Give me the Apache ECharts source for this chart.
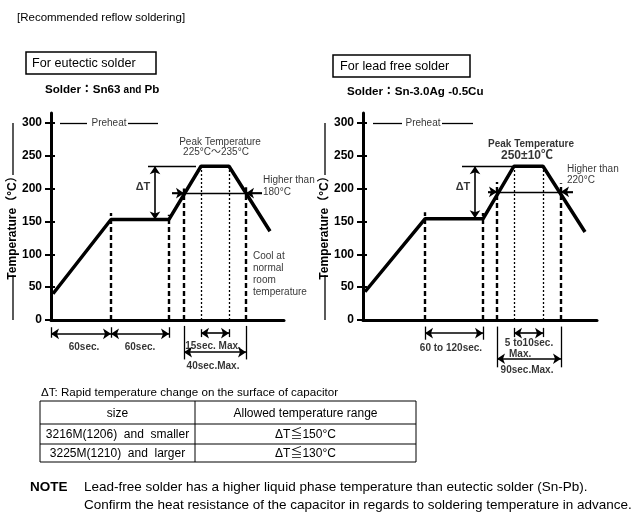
<!DOCTYPE html>
<html><head><meta charset="utf-8">
<script src="https://cdn.jsdelivr.net/npm/echarts@6/dist/echarts.min.js"></script>
<style>html,body{margin:0;padding:0;background:#fff}#c{width:640px;height:522px}</style>
</head><body><div id="c"></div>
<script>
// ---------------- DATA ----------------
const yTickValues = [0, 50, 100, 150, 200, 250, 300];
// time (s, approx) vs temperature (°C)
const eutecticProfile = [[2, 40], [60, 153], [118, 153], [150, 234], [178, 234], [219, 135]];
const leadFreeProfile = [[2, 43], [62, 154], [120, 154], [151, 234], [180, 234], [222, 134]];
const tableHeader = ['size', 'Allowed temperature range'];
const tableRow1 = ['3216M(1206)  and  smaller', 'ΔT≦150°C'];
const tableRow2 = ['3225M(1210)  and  larger', 'ΔT≦130°C'];

// ---------------- ANNOTATIONS (data coords) ----------------
const eutDashed = [[60, 163], [118, 160], [133, 200], [195, 202]];
const eutDotted = [[150, 234], [178, 234]];
const eutThin = [
  [[9, 300], [36, 300]], [[77, 300], [107, 300]],
  [[121, 193], [211, 193]], [[97, 234], [145, 234]],
  [[0, -11], [0, -27]], [[60, -11], [60, -27]], [[118, -11], [118, -27]],
  [[150, -14], [150, -26]], [[178, -14], [178, -26]],
  [[133, -9], [133, -60]], [[195, -9], [195, -60]]
];
const eutDouble = [
  [[0, -21], [60, -21]], [[60, -21], [118, -21]], [[150, -20], [178, -20]],
  [[133, -49], [195, -49]], [[104, 234], [104, 153]]
];
const eutSingle = [[[121, 193], [133, 193]], [[211, 193], [195, 193]]];
const eutLabels = [
  ['Preheat', 58, 300, 'n'], ['Peak Temperature', 169, 271, 'n'], ['225°C～235°C', 165, 255, 'n'],
  ['ΔT', 92, 202, 'dt'], ['Higher than', 212, 212, 'nl'], ['180°C', 212, 195, 'nl'],
  ['Cool at\nnormal\nroom\ntemperature', 202, 69, 'ml'],
  ['60sec.', 33, -41, 'b'], ['60sec.', 89, -41, 'b'], ['15sec. Max.', 162, -40, 'b'], ['40sec.Max.', 162, -70, 'b']
];

const leadDashed = [[62, 164], [120, 163], [134, 210], [198, 208]];
const leadDotted = [[151, 234], [180, 234]];
const leadThin = [
  [[10, 300], [39, 300]], [[79, 300], [110, 300]],
  [[125, 195], [210, 195]], [[99, 234], [149, 234]],
  [[62, -10], [62, -30]], [[120, -10], [120, -30]],
  [[151, -12], [151, -26]], [[180, -12], [180, -26]],
  [[134, -10], [134, -72]], [[198, -10], [198, -72]]
];
const leadDouble = [
  [[62, -20], [120, -20]], [[151, -20], [180, -20]], [[134, -59], [198, -59]], [[112, 234], [112, 155]]
];
const leadSingle = [[[125, 195], [134, 195]], [[210, 195], [198, 195]]];
const leadLabels = [
  ['Preheat', 60, 300, 'n'], ['Peak Temperature', 168, 268, 'b'], ['250±10℃', 164, 250, 'big'],
  ['ΔT', 100, 202, 'dt'], ['Higher than', 204, 230, 'nl'], ['220°C', 204, 213, 'nl'],
  ['60 to 120sec.', 88, -43, 'b'], ['5 to10sec.', 166, -35, 'b'], ['Max.', 146, -52, 'bl'], ['90sec.Max.', 164, -76, 'b']
];

// ---------------- STYLE ----------------
const FONT = '"Liberation Sans", Arial, "Noto Sans CJK JP", sans-serif';
const labelStyles = {
  n: {fontSize: 10}, nl: {fontSize: 10, align: 'left'},
  ml: {fontSize: 10, align: 'left', lineHeight: 12},
  b: {fontSize: 10, fontWeight: 'bold'}, bl: {fontSize: 10, fontWeight: 'bold', align: 'left'},
  dt: {fontSize: 11, fontWeight: 'bold'}, big: {fontSize: 12, fontWeight: 'bold'}
};

function axesFor(i, xmax) {
  return {
    x: {gridIndex: i, type: 'value', min: 0, max: xmax,
        axisLine: {show: true, lineStyle: {color: '#000', width: 3}},
        axisTick: {show: false}, axisLabel: {show: false}, splitLine: {show: false}},
    y: [{gridIndex: i, type: 'value', min: 0, max: 315,
         axisLine: {show: true, lineStyle: {color: '#000', width: 3}},
         axisTick: {show: true, length: 6, lineStyle: {color: '#000', width: 2}, customValues: yTickValues},
         axisLabel: {customValues: yTickValues, fontSize: 12, fontWeight: 'bold', color: '#000', margin: 9, fontFamily: FONT},
         splitLine: {show: false}},
        {gridIndex: i, type: 'value', min: 0, max: 315, position: 'left',
         axisLine: {show: false},
         axisTick: {show: true, inside: true, length: 4, lineStyle: {color: '#000', width: 2}, customValues: yTickValues},
         axisLabel: {show: false}, splitLine: {show: false}}]
  };
}

function seriesFor(i, profile, dashed, dotted, thin, dbl, single, labels) {
  const ax = {xAxisIndex: i, yAxisIndex: i * 2};
  const linesBase = Object.assign({type: 'lines', coordinateSystem: 'cartesian2d', clip: false, silent: true}, ax);
  return [
    Object.assign({}, linesBase, {symbol: 'none', lineStyle: {color: '#000', width: 2.4, type: [5, 3], opacity: 1},
      data: dashed.map(d => ({coords: [[d[0], 0], [d[0], d[1]]]}))}),
    Object.assign({}, linesBase, {symbol: 'none', lineStyle: {color: '#000', width: 1.3, type: [2, 2], opacity: 1},
      data: dotted.map(d => ({coords: [[d[0], 0], [d[0], d[1]]]}))}),
    Object.assign({}, linesBase, {symbol: 'none', lineStyle: {color: '#000', width: 1.3, opacity: 1},
      data: thin.map(c => ({coords: c}))}),
    Object.assign({}, linesBase, {symbol: ['arrow', 'arrow'], symbolSize: 8, lineStyle: {color: '#000', width: 1.6, opacity: 1},
      data: dbl.map(c => ({coords: c}))}),
    Object.assign({}, linesBase, {symbol: ['none', 'arrow'], symbolSize: 8, lineStyle: {color: '#000', width: 1.6, opacity: 1},
      data: single.map(c => ({coords: c}))}),
    Object.assign({type: 'line', data: profile, symbol: 'none', silent: true, z: 5,
      lineStyle: {color: '#000', width: 3.5}}, ax),
    Object.assign({type: 'scatter', clip: false, symbolSize: 0, silent: true, z: 6,
      data: labels.map(l => ({value: [l[1], l[2]], name: l[0],
        label: Object.assign({}, labelStyles[l[3]])})),
      label: {show: true, position: 'inside', formatter: '{b}', color: '#000', fontFamily: FONT, verticalAlign: 'middle'}}, ax)
  ];
}

const axL = axesFor(0, 233), axR = axesFor(1, 234);

function yName(x) {
  return [
    {type: 'line', shape: {x1: x, y1: 123, x2: x, y2: 175}, style: {stroke: '#000', lineWidth: 1.3}},
    {type: 'line', shape: {x1: x, y1: 275, x2: x, y2: 320}, style: {stroke: '#000', lineWidth: 1.3}},
    {type: 'text', x: x, y: 225, rotation: Math.PI / 2,
     style: {text: 'Temperature（°C）', font: 'bold 12px ' + FONT, fill: '#000', align: 'center', verticalAlign: 'middle'}}
  ];
}

const tX0 = 40, tX1 = 416, tXm = 195, tY = [401, 424, 444, 462];
const tableRows = [tableHeader, tableRow1, tableRow2];
const tableGraphic = [
  {type: 'rect', shape: {x: tX0, y: tY[0], width: tX1 - tX0, height: tY[3] - tY[0]}, style: {fill: 'none', stroke: '#000', lineWidth: 1}},
  {type: 'line', shape: {x1: tX0, y1: tY[1], x2: tX1, y2: tY[1]}, style: {stroke: '#000', lineWidth: 1}},
  {type: 'line', shape: {x1: tX0, y1: tY[2], x2: tX1, y2: tY[2]}, style: {stroke: '#000', lineWidth: 1}},
  {type: 'line', shape: {x1: tXm, y1: tY[0], x2: tXm, y2: tY[3]}, style: {stroke: '#000', lineWidth: 1}}
];
tableRows.forEach((row, r) => {
  const cy = (tY[r] + tY[r + 1]) / 2 + 1;
  tableGraphic.push({type: 'text', x: (tX0 + tXm) / 2, y: cy, style: {text: row[0], font: '12px ' + FONT, fill: '#000', align: 'center', verticalAlign: 'middle'}});
  tableGraphic.push({type: 'text', x: (tXm + tX1) / 2, y: cy, style: {text: row[1], font: '12px ' + FONT, fill: '#000', align: 'center', verticalAlign: 'middle'}});
});

const txt = (x, y, text, font, extra) => Object.assign({type: 'text', x, y,
  style: Object.assign({text, font: font + ' ' + FONT, fill: '#000', align: 'left', verticalAlign: 'middle'}, extra || {})});

const graphic = [
  txt(17, 18, '[Recommended reflow soldering]', '11.5px'),
  {type: 'rect', shape: {x: 26, y: 52, width: 130, height: 22}, style: {fill: 'none', stroke: '#000', lineWidth: 1.5}},
  txt(32, 64, 'For eutectic solder', '12.6px'),
  {type: 'text', x: 45, y: 90, style: {text: '{a|Solder：Sn63 }{s|and}{a| Pb}', fill: '#000', verticalAlign: 'middle',
    rich: {a: {font: 'bold 11.6px ' + FONT}, s: {font: 'bold 10px ' + FONT}}}},
  {type: 'rect', shape: {x: 333, y: 55, width: 137, height: 22}, style: {fill: 'none', stroke: '#000', lineWidth: 1.5}},
  txt(340, 67, 'For lead free solder', '12.6px'),
  txt(347, 92, 'Solder：Sn-3.0Ag -0.5Cu', 'bold 11.6px'),
  ...yName(13), ...yName(325),
  txt(41, 393, 'ΔT: Rapid temperature change on the surface of capacitor', '11.6px'),
  ...tableGraphic,
  txt(30, 487, 'NOTE', 'bold 13.5px'),
  txt(84, 487, 'Lead-free solder has a higher liquid phase temperature than eutectic solder (Sn-Pb).', '13.5px'),
  txt(84, 505, 'Confirm the heat resistance of the capacitor in regards to soldering temperature in advance.', '13.5px')
];

const chart = echarts.init(document.getElementById('c'), null, {renderer: 'canvas'});
chart.setOption({
  animation: false,
  backgroundColor: '#fff',
  textStyle: {fontFamily: FONT},
  grid: [
    {left: 51, top: 113, width: 233, height: 207},
    {left: 363, top: 113, width: 234, height: 207}
  ],
  xAxis: [axL.x, axR.x],
  yAxis: [...axL.y, ...axR.y],
  series: [
    ...seriesFor(0, eutecticProfile, eutDashed, eutDotted, eutThin, eutDouble, eutSingle, eutLabels),
    ...seriesFor(1, leadFreeProfile, leadDashed, leadDotted, leadThin, leadDouble, leadSingle, leadLabels)
  ],
  graphic: graphic
});
</script></body></html>
